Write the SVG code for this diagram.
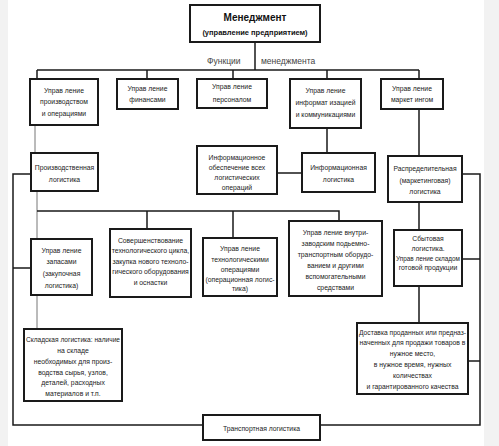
<svg xmlns="http://www.w3.org/2000/svg" width="499" height="446" viewBox="0 0 499 446">
<style>
.b{fill:#fff;stroke:#1a1a1a;stroke-width:2}
.t{font-family:"Liberation Sans",Arial,sans-serif;font-size:6.8px;fill:#222;text-anchor:middle}
.h{font-family:"Liberation Sans",Arial,sans-serif;font-weight:bold;fill:#111;text-anchor:middle}
.c{fill:none;stroke:#1a1a1a;stroke-width:1.5}
.g{fill:none;stroke:#777;stroke-width:1}
.lbl{font-family:"Liberation Sans",Arial,sans-serif;font-size:8.5px;fill:#444}
</style>
<rect x="0" y="0" width="499" height="446" fill="#fff"/>
<rect x="0" y="0" width="8" height="446" fill="#f2f2f2"/>
<rect x="484" y="0" width="15" height="446" fill="#f2f2f2"/>
<g id="connectors">
<path class="c" d="M255 42V70M37 70H419M37 70V79M147 70V79M233 70V79M327 70V79M419 70V79"/>
<path class="g" d="M35 125V153M37 191V239M37 295V329"/>
<path class="c" d="M37 211H339V221M147 211V229M233 211V238"/>
<path class="c" d="M31 174H13V425H203M13 268H31"/>
<path class="c" d="M327 128V153M277 173H302"/>
<path class="c" d="M419 109V156M419 202V230M419 286V323"/>
<path class="c" d="M462 174H480V425H320M462 259H480M468 361H480"/>
</g>
<text class="lbl" x="207" y="64">Функции</text>
<text class="lbl" x="261" y="64">менеджмента</text>
<g id="n_management"><rect class="b" x="190" y="5" width="130" height="37"/>
<text class="h" x="255" y="21" font-size="10">Менеджмент</text>
<text class="h" x="255" y="35" font-size="7.5">(управление предприятием)</text></g>
<g id="n_prod_mgmt"><rect class="b" x="30" y="79" width="68" height="46"/>
<text class="t" x="64" y="93">Управ ление</text><text class="t" x="64" y="104">производством</text><text class="t" x="64" y="116">и операциями</text></g>
<g id="n_fin"><rect class="b" x="117" y="79" width="61" height="30"/>
<text class="t" x="147.5" y="90.5">Управ ление</text><text class="t" x="147.5" y="101.5">финансами</text></g>
<g id="n_pers"><rect class="b" x="197" y="79" width="70" height="29"/>
<text class="t" x="232" y="89">Управ ление</text><text class="t" x="232" y="101.5">персоналом</text></g>
<g id="n_info_mgmt"><rect class="b" x="290" y="79" width="71" height="49"/>
<text class="t" x="325.5" y="92.5">Управ ление</text><text class="t" x="325.5" y="104.5">информат изацией</text><text class="t" x="325.5" y="116.5">и коммуникациями</text></g>
<g id="n_mkt"><rect class="b" x="381" y="79" width="62" height="30"/>
<text class="t" x="412" y="90.5">Управ ление</text><text class="t" x="412" y="101.5">маркет ингом</text></g>
<g id="n_prod_log"><rect class="b" x="31" y="153" width="67" height="38"/>
<text class="t" x="64.5" y="169.5">Производственная</text><text class="t" x="64.5" y="181.5">логистика</text></g>
<g id="n_info_supp"><rect class="b" x="197" y="146" width="80" height="48"/>
<text class="t" x="237" y="159.5">Информационное</text><text class="t" x="237" y="170">обеспечение всех</text><text class="t" x="237" y="180">логистических</text><text class="t" x="237" y="189.5">операций</text></g>
<g id="n_info_log"><rect class="b" x="302" y="153" width="73" height="39"/>
<text class="t" x="338.5" y="169.5">Информационная</text><text class="t" x="338.5" y="181.5">логистика</text></g>
<g id="n_distr"><rect class="b" x="388" y="156" width="74" height="46"/>
<text class="t" x="425" y="170.5">Распределительная</text><text class="t" x="425" y="182.5">(маркетинговая)</text><text class="t" x="425" y="193.5">логистика</text></g>
<g id="n_stock"><rect class="b" x="31" y="239" width="61" height="56"/>
<text class="t" x="61.5" y="252.5">Управ ление</text><text class="t" x="61.5" y="263.5">запасами</text><text class="t" x="61.5" y="275.5">(закупочная</text><text class="t" x="61.5" y="288">логистика)</text></g>
<g id="n_tech_cycle"><rect class="b" x="110" y="229" width="81" height="68"/>
<text class="t" x="150.5" y="242.5">Совершенствование</text><text class="t" x="150.5" y="253">технологического цикла,</text><text class="t" x="150.5" y="263.5">закупка нового техноло-</text><text class="t" x="150.5" y="274">гического оборудования</text><text class="t" x="150.5" y="284.5">и оснастки</text></g>
<g id="n_tech_ops"><rect class="b" x="203" y="238" width="74" height="58"/>
<text class="t" x="240" y="250.5">Управ ление</text><text class="t" x="240" y="261.5">технологическими</text><text class="t" x="240" y="271.5">операциями</text><text class="t" x="240" y="281.5">(операционная логис-</text><text class="t" x="240" y="290.5">тика)</text></g>
<g id="n_transport_eq"><rect class="b" x="289" y="221" width="93" height="75"/>
<text class="t" x="335.5" y="234.5">Управ ление внутри-</text><text class="t" x="335.5" y="245.5">заводским подьемно-</text><text class="t" x="335.5" y="256.5">транспортным оборудо-</text><text class="t" x="335.5" y="267.5">ванием и другими</text><text class="t" x="335.5" y="278.5">вспомогательными</text><text class="t" x="335.5" y="289.5">средствами</text></g>
<g id="n_sales"><rect class="b" x="394" y="230" width="68" height="56"/>
<text class="t" x="428" y="240.5">Сбытовая</text><text class="t" x="428" y="250.5">логистика.</text><text class="t" x="428" y="260.5" textLength="64" lengthAdjust="spacingAndGlyphs">Управ ление складом</text><text class="t" x="428" y="269.5">готовой продукции</text></g>
<g id="n_warehouse"><rect class="b" x="24" y="329" width="98" height="72"/>
<text class="t" x="73" y="341.5" textLength="94" lengthAdjust="spacingAndGlyphs">Складская логистика: наличие</text><text class="t" x="73" y="353">на складе</text><text class="t" x="73" y="364">необходимых для произ-</text><text class="t" x="73" y="374.5">водства сырья, узлов,</text><text class="t" x="73" y="385">деталей, расходных</text><text class="t" x="73" y="395.5">материалов и т.п.</text></g>
<g id="n_delivery"><rect class="b" x="357" y="323" width="111" height="71"/>
<text class="t" x="412.5" y="334.5" textLength="107" lengthAdjust="spacingAndGlyphs">Доставка проданных или предназ-</text><text class="t" x="412.5" y="344.5" textLength="106" lengthAdjust="spacingAndGlyphs">наченных для продажи товаров в</text><text class="t" x="412.5" y="355.5">нужное место,</text><text class="t" x="412.5" y="366.5">в нужное время, нужных</text><text class="t" x="412.5" y="377.5">количествах</text><text class="t" x="412.5" y="388.5">и гарантированного качества</text></g>
<g id="n_transport"><rect class="b" x="203" y="415" width="117" height="25"/>
<text class="t" x="261.5" y="430.5">Транспортная логистика</text></g>
</svg>
